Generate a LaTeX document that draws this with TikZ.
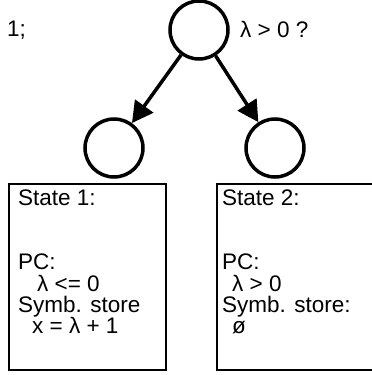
\documentclass[tikz,border=0pt]{standalone}
\usepackage{fontspec}
\setmainfont{Liberation Sans}
\usetikzlibrary{arrows.meta}
\begin{document}
\begin{tikzpicture}[x=1pt,y=-1pt,
  circ/.style={circle,draw,line width=3.5pt,minimum size=58pt,inner sep=0pt},
  arr/.style={line width=3.5pt,-{Triangle[length=21pt,width=22pt]}},
  box/.style={draw,line width=2pt,rectangle,inner sep=0pt,anchor=north west},
  txt/.style={anchor=base west,inner sep=0pt,font=\fontsize{22.5}{22.5}\selectfont}]
\useasboundingbox (0,0) rectangle (372,375);
\node[circ] (root) at (199,30) {};
\node[circ] (left) at (114,148) {};
\node[circ] (right) at (275,148) {};
\draw[arr] (root) -- (left);
\draw[arr] (root) -- (right);
\node[txt] (semi) at (7,36) {1;};
\node[txt] (cond) at (240,37) {λ > 0 ?};
\node[box,minimum width=157pt,minimum height=186pt] (b1) at (8,183) {};
\node[box,minimum width=162pt,minimum height=186pt] (b2) at (216,183) {};
\node[txt] (s1) at (18,205) {State 1:};
\node[txt] (pc1) at (18,269) {PC:};
\node[txt] (c1) at (37,291) {λ <= 0};
\node[txt] (st1) at (18,312) {Symb. store};
\node[txt] (v1) at (32,333) {x = λ + 1};
\node[txt] (s2) at (222,205) {State 2:};
\node[txt] (pc2) at (222,269) {PC:};
\node[txt] (c2) at (232,291) {λ > 0};
\node[txt] (st2) at (222,312) {Symb. store:};
\node[txt] (v2) at (232,333) {ø};
\end{tikzpicture}
\end{document}
